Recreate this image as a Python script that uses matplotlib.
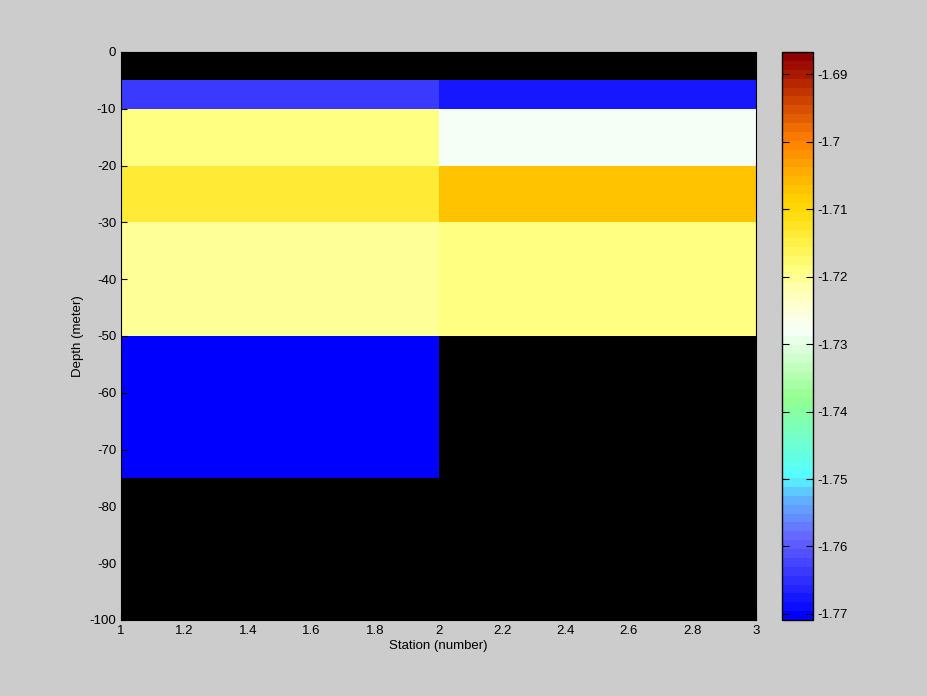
import numpy as np
import matplotlib
matplotlib.use("Agg")
import matplotlib.pyplot as plt
from matplotlib.colors import LinearSegmentedColormap

# Data
stations = [1, 2, 3]                                  # cell edges in x
depths = [0, -5, -10, -20, -30, -50, -75, -100]       # cell edges in y
# cell values (rows: top to bottom depth layers, cols: station cells)
station1 = [np.nan, -1.7633, -1.7185, -1.7135, -1.7207, -1.7709, np.nan]
station2 = [np.nan, -1.7680, -1.7280, -1.7065, -1.7185, np.nan, np.nan]
clim_min, clim_max = -1.7709, -1.6867
cbar_ticks = [-1.77, -1.76, -1.75, -1.74, -1.73, -1.72, -1.71, -1.70, -1.69]
xticks = [1, 1.2, 1.4, 1.6, 1.8, 2, 2.2, 2.4, 2.6, 2.8, 3]
yticks = [0, -10, -20, -30, -40, -50, -60, -70, -80, -90, -100]

anchors = [
    (0.00, (0.00, 0.00, 1.00)),
    (0.14, (0.40, 0.40, 1.00)),
    (0.21, (0.38, 0.70, 1.00)),
    (0.25, (0.33, 1.00, 1.00)),
    (0.39, (0.58, 1.00, 0.56)),
    (0.51, (0.97, 1.00, 0.97)),
    (0.58, (1.00, 1.00, 0.72)),
    (0.62, (1.00, 1.00, 0.50)),
    (0.66, (1.00, 0.95, 0.30)),
    (0.72, (1.00, 0.86, 0.05)),
    (0.74, (1.00, 0.83, 0.00)),
    (0.85, (1.00, 0.50, 0.00)),
    (0.95, (0.72, 0.16, 0.00)),
    (1.00, (0.55, 0.00, 0.00)),
]
cmap = LinearSegmentedColormap.from_list("custom", anchors, N=64)

plt.rcParams['font.family'] = ['Liberation Sans', 'DejaVu Sans']

fig = plt.figure(figsize=(9.28, 6.96), dpi=100, facecolor='#cccccc')
ax = fig.add_axes([121/928, 1-620/696, (756-121)/928, (620-52)/696])
ax.set_facecolor('black')

C = np.array([station1, station2]).T
mesh = ax.pcolormesh(stations, depths, np.ma.masked_invalid(C), cmap=cmap,
                     vmin=clim_min, vmax=clim_max, shading='flat')
ax.set_xlim(1, 3)
ax.set_ylim(-100, 0)
ax.set_xticks(xticks)
ax.set_xticklabels([f"{t:g}" for t in xticks])
ax.set_yticks(yticks)
ax.set_yticklabels([f"{t:g}" for t in yticks])
ax.tick_params(direction='in', labelsize=9.5, length=4, color='black')
ax.set_xlabel('Station (number)', fontsize=9.5, labelpad=2)
ax.set_ylabel('Depth (meter)', fontsize=9.5, labelpad=4)

cax = fig.add_axes([782/928, 1-620/696, 31/928, (620-52)/696])
cb = fig.colorbar(mesh, cax=cax, ticks=cbar_ticks)
cb.ax.set_yticklabels([f"{t:g}" for t in cbar_ticks])
cb.ax.tick_params(direction='in', labelsize=9.5, length=5, left=True, right=True)
cb.outline.set_linewidth(1)

fig.savefig('out.png', dpi=100, facecolor=fig.get_facecolor())
